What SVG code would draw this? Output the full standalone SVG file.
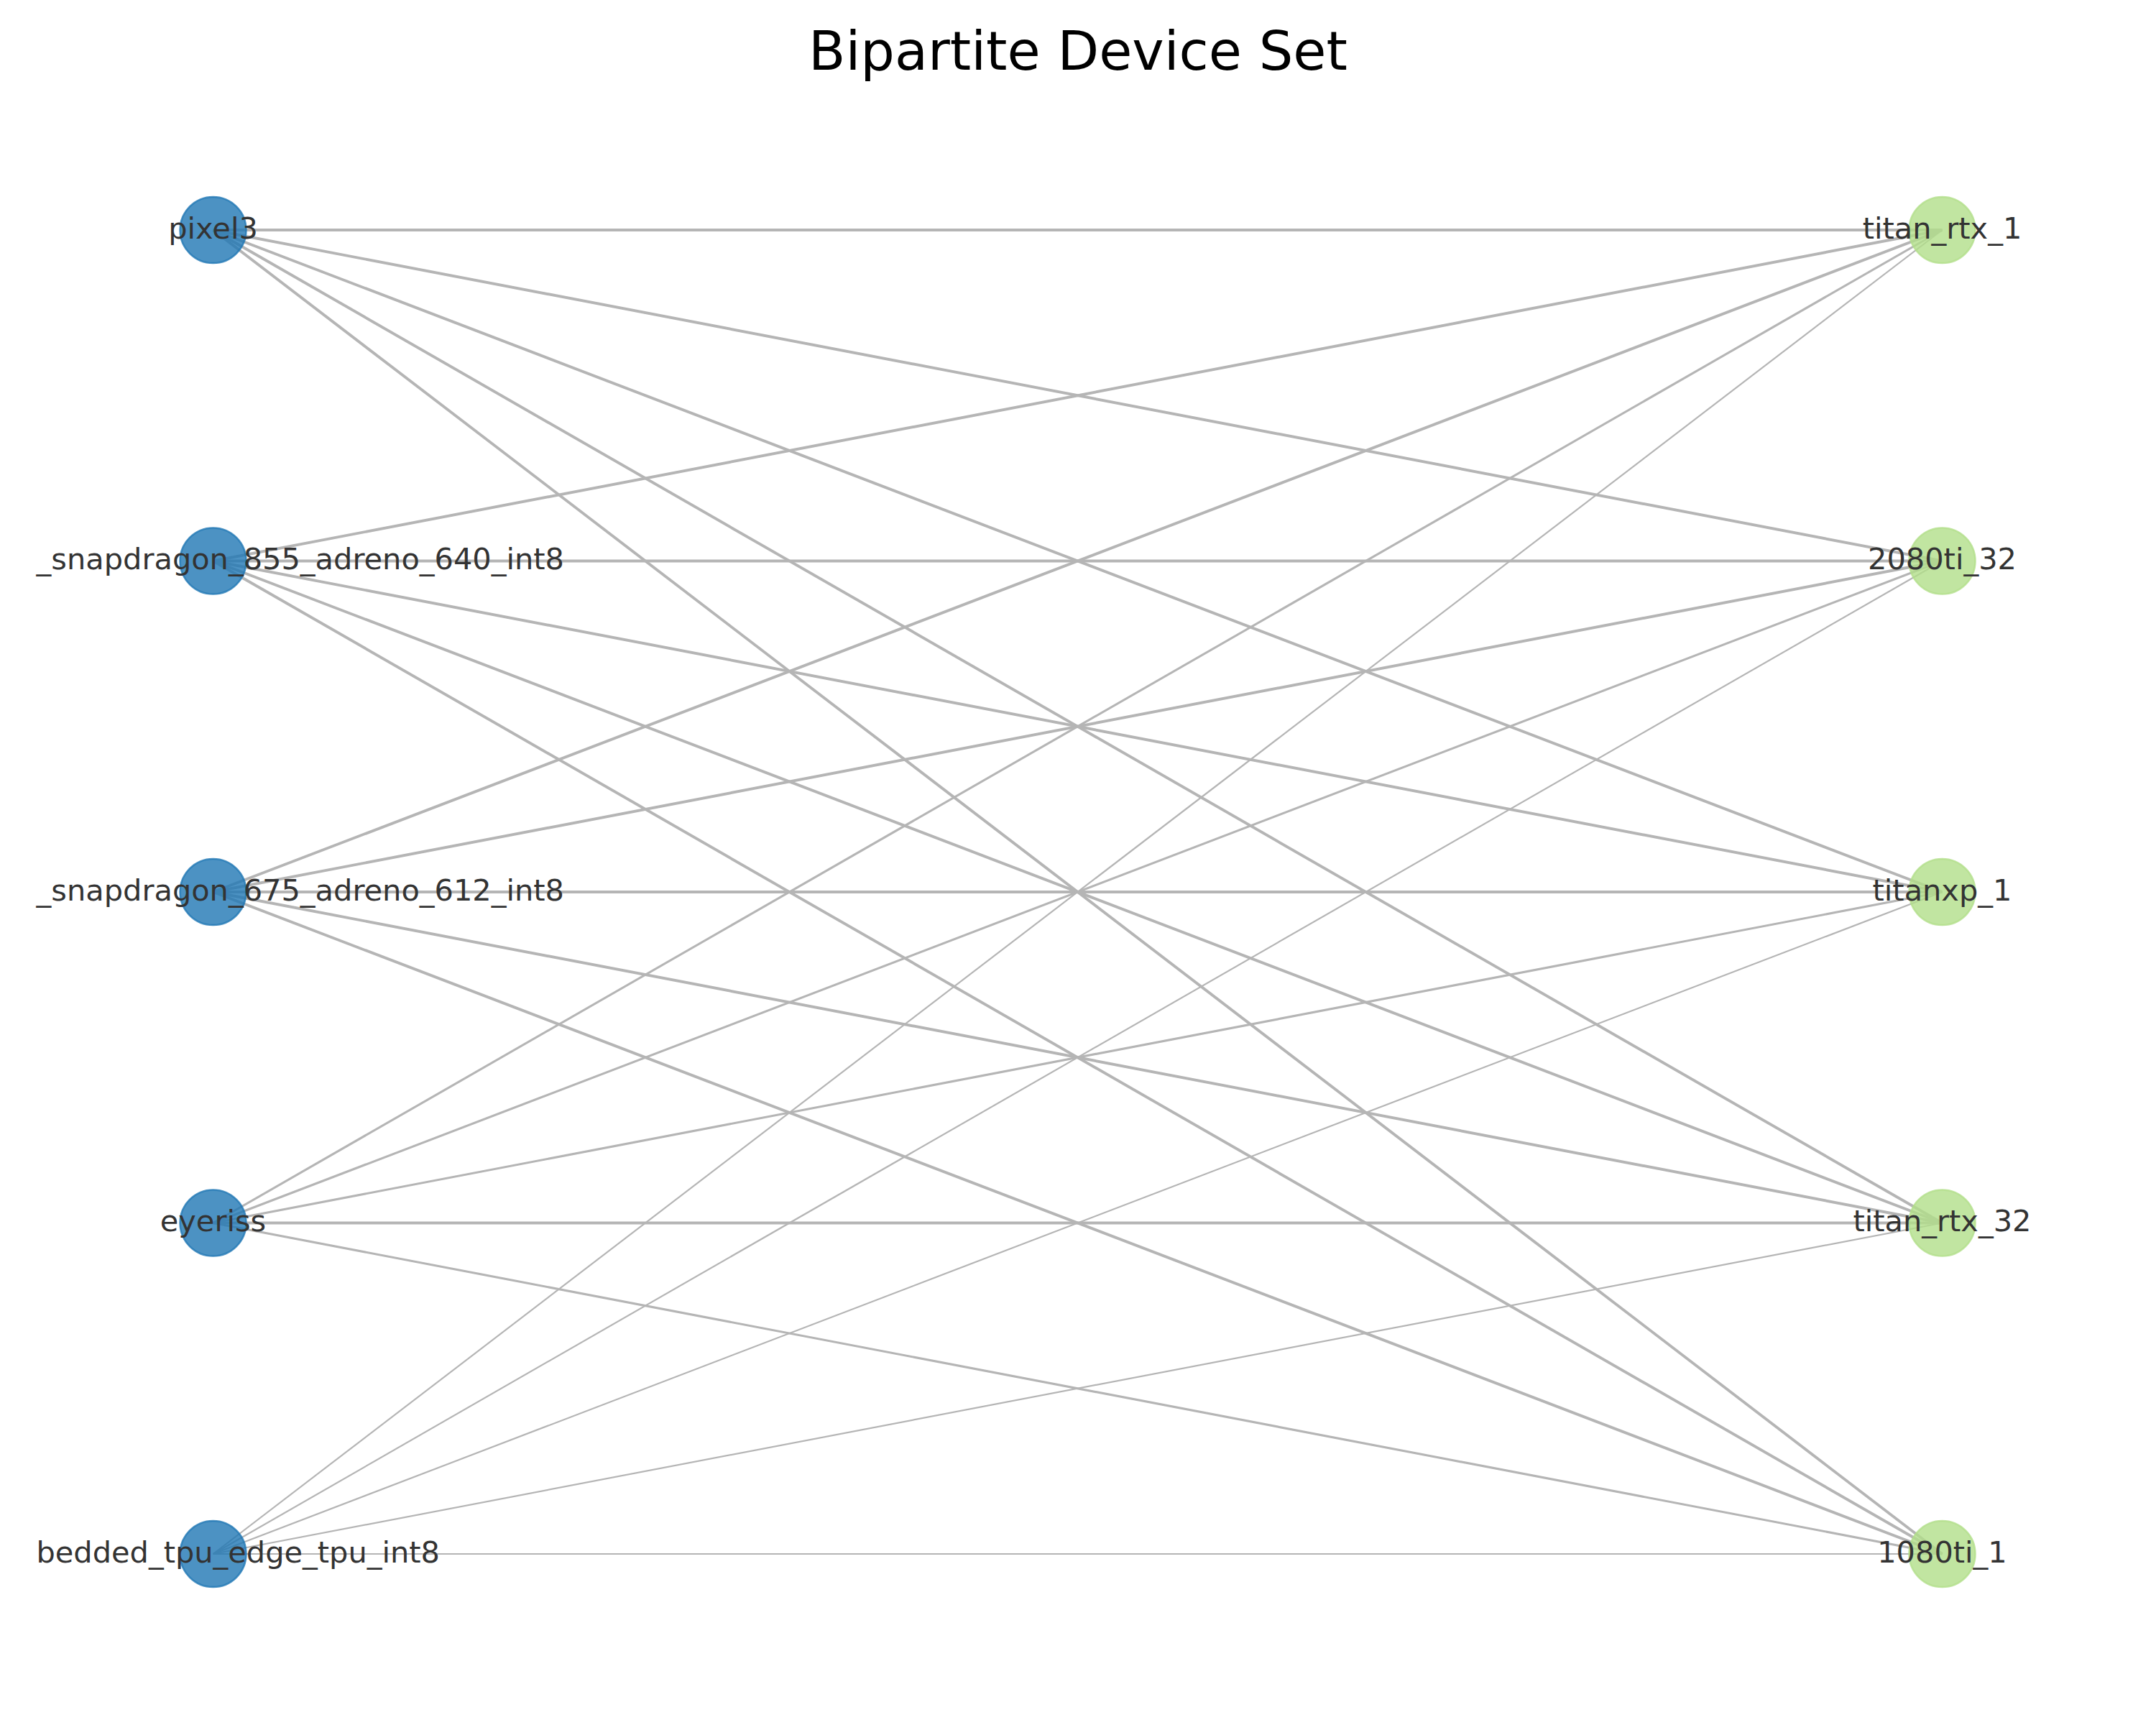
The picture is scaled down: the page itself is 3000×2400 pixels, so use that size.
<svg xmlns="http://www.w3.org/2000/svg" width="3000" height="2400" viewBox="0 0 3000 2400">
<style>
.e{stroke:#b5b5b5;stroke-linecap:butt;fill:none}
.w1{stroke-width:3.9}
.w2{stroke-width:3.1}
.w3{stroke-width:2.2}
.ln{fill:#1f77b4;fill-opacity:0.8;stroke:#1f77b4;stroke-opacity:0.8;stroke-width:2.5}
.rn{fill:#b2df8a;fill-opacity:0.8;stroke:#b2df8a;stroke-opacity:0.8;stroke-width:2.5}
.lb{font-family:"DejaVu Sans","Liberation Sans",sans-serif;font-size:41.5px;fill:#333333}
.t{font-family:"DejaVu Sans","Liberation Sans",sans-serif;font-size:75px;fill:#000000}
</style>
<rect width="3000" height="2400" fill="#ffffff"/>
<text class="t" x="1500" y="97" text-anchor="middle">Bipartite Device Set</text>
<g id="edges">
<line class="e w1" x1="296.5" y1="320" x2="2702.5" y2="320"/>
<line class="e w1" x1="296.5" y1="320" x2="2702.5" y2="780.5"/>
<line class="e w1" x1="296.5" y1="320" x2="2702.5" y2="1241"/>
<line class="e w1" x1="296.5" y1="320" x2="2702.5" y2="1701.5"/>
<line class="e w1" x1="296.5" y1="320" x2="2702.5" y2="2162"/>
<line class="e w1" x1="296.5" y1="780.5" x2="2702.5" y2="320"/>
<line class="e w1" x1="296.5" y1="780.5" x2="2702.5" y2="780.5"/>
<line class="e w1" x1="296.5" y1="780.5" x2="2702.5" y2="1241"/>
<line class="e w1" x1="296.5" y1="780.5" x2="2702.5" y2="1701.5"/>
<line class="e w1" x1="296.5" y1="780.5" x2="2702.5" y2="2162"/>
<line class="e w1" x1="296.5" y1="1241" x2="2702.5" y2="320"/>
<line class="e w1" x1="296.5" y1="1241" x2="2702.5" y2="780.5"/>
<line class="e w1" x1="296.5" y1="1241" x2="2702.5" y2="1241"/>
<line class="e w1" x1="296.5" y1="1241" x2="2702.5" y2="1701.5"/>
<line class="e w1" x1="296.5" y1="1241" x2="2702.5" y2="2162"/>
<line class="e w2" x1="296.5" y1="1701.5" x2="2702.5" y2="320"/>
<line class="e w2" x1="296.5" y1="1701.5" x2="2702.5" y2="780.5"/>
<line class="e w2" x1="296.5" y1="1701.5" x2="2702.5" y2="1241"/>
<line class="e w1" x1="296.5" y1="1701.5" x2="2702.5" y2="1701.5"/>
<line class="e w2" x1="296.5" y1="1701.5" x2="2702.5" y2="2162"/>
<line class="e w3" x1="296.5" y1="2162" x2="2702.5" y2="320"/>
<line class="e w3" x1="296.5" y1="2162" x2="2702.5" y2="780.5"/>
<line class="e w3" x1="296.5" y1="2162" x2="2702.5" y2="1241"/>
<line class="e w3" x1="296.5" y1="2162" x2="2702.5" y2="1701.5"/>
<line class="e w3" x1="296.5" y1="2162" x2="2702.5" y2="2162"/>
</g>
<g id="node-pixel3"><circle class="ln" cx="296.5" cy="320" r="46"/><text class="lb" x="296.5" y="331.5" text-anchor="middle">pixel3</text></g>
<g id="node-snapdragon855"><circle class="ln" cx="296.5" cy="780.5" r="46"/><text class="lb" x="785" y="792" text-anchor="end">_snapdragon_855_adreno_640_int8</text></g>
<g id="node-snapdragon675"><circle class="ln" cx="296.5" cy="1241" r="46"/><text class="lb" x="785" y="1252.5" text-anchor="end">_snapdragon_675_adreno_612_int8</text></g>
<g id="node-eyeriss"><circle class="ln" cx="296.5" cy="1701.5" r="46"/><text class="lb" x="296.5" y="1713" text-anchor="middle">eyeriss</text></g>
<g id="node-tpu"><circle class="ln" cx="296.5" cy="2162" r="46"/><text class="lb" x="612" y="2173.5" text-anchor="end">bedded_tpu_edge_tpu_int8</text></g>
<g id="node-titan_rtx_1"><circle class="rn" cx="2702.5" cy="320" r="46"/><text class="lb" x="2702.5" y="331.5" text-anchor="middle">titan_rtx_1</text></g>
<g id="node-2080ti_32"><circle class="rn" cx="2702.5" cy="780.5" r="46"/><text class="lb" x="2702.5" y="792" text-anchor="middle">2080ti_32</text></g>
<g id="node-titanxp_1"><circle class="rn" cx="2702.5" cy="1241" r="46"/><text class="lb" x="2702.5" y="1252.5" text-anchor="middle">titanxp_1</text></g>
<g id="node-titan_rtx_32"><circle class="rn" cx="2702.5" cy="1701.5" r="46"/><text class="lb" x="2702.5" y="1713" text-anchor="middle">titan_rtx_32</text></g>
<g id="node-1080ti_1"><circle class="rn" cx="2702.5" cy="2162" r="46"/><text class="lb" x="2702.5" y="2173.5" text-anchor="middle">1080ti_1</text></g>
</svg>
